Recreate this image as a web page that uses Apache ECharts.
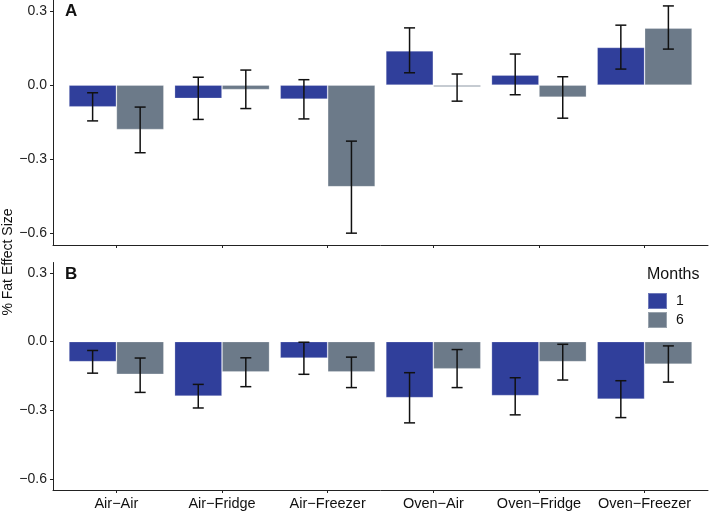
<!DOCTYPE html>
<html>
<head>
<meta charset="utf-8">
<script src="https://cdn.jsdelivr.net/npm/echarts@6/dist/echarts.min.js"></script>
<style>
  html, body { margin: 0; padding: 0; background: #fff; }
  #chart { width: 709px; height: 511px; }
</style>
</head>
<body>
<div id="chart"></div>
<script>
var categories = ['Air\u2212Air', 'Air\u2212Fridge', 'Air\u2212Freezer', 'Oven\u2212Air', 'Oven\u2212Fridge', 'Oven\u2212Freezer'];
var months = ['1', '6'];
var yTicks = [-0.6, -0.3, 0, 0.3];

// panel A
var meanA1 = [-0.088, -0.054, -0.057, 0.139, 0.041, 0.153];
var lowA1 = [-0.145, -0.139, -0.137, 0.050, -0.039, 0.065];
var highA1 = [-0.031, 0.032, 0.022, 0.232, 0.126, 0.243];
var meanA6 = [-0.180, -0.018, -0.412, -0.007, -0.049, 0.231];
var lowA6 = [-0.274, -0.095, -0.600, -0.065, -0.134, 0.146];
var highA6 = [-0.089, 0.061, -0.227, 0.045, 0.034, 0.321];

// panel B
var meanB1 = [-0.088, -0.238, -0.072, -0.245, -0.236, -0.252];
var lowB1 = [-0.138, -0.290, -0.143, -0.355, -0.320, -0.332];
var highB1 = [-0.039, -0.187, -0.003, -0.136, -0.158, -0.171];
var meanB6 = [-0.143, -0.133, -0.133, -0.119, -0.088, -0.099];
var lowB6 = [-0.222, -0.197, -0.201, -0.201, -0.168, -0.177];
var highB6 = [-0.072, -0.071, -0.068, -0.035, -0.012, -0.019];

var blue = '#303f9b';
var grey = '#6c7a89';
var font = '"Liberation Sans", Arial, sans-serif';
var catIdx = categories.map(function (c, i) { return i; });

function xAxis(idx, showLabels) {
    return {
        type: 'value', gridIndex: idx, min: -0.6, max: 5.6,
        splitLine: { show: false },
        axisLine: { show: true, onZero: false, lineStyle: { color: '#222', width: 1 } },
        axisTick: { show: true, length: 3, customValues: catIdx, lineStyle: { color: '#222' } },
        axisLabel: {
            show: showLabels, customValues: catIdx, color: '#111', fontSize: 14.5,
            fontFamily: font, margin: 6,
            formatter: function (v) { return categories[Math.round(v)]; }
        }
    };
}

function yAxis(idx) {
    return {
        type: 'value', gridIndex: idx, min: -0.648, max: 0.345,
        splitLine: { show: false },
        axisLine: { show: true, onZero: false, lineStyle: { color: '#222', width: 1 } },
        axisTick: { show: true, length: 3, customValues: yTicks, lineStyle: { color: '#222' } },
        axisLabel: {
            customValues: yTicks, color: '#222', fontSize: 14, fontFamily: font, margin: 6,
            formatter: function (v) {
                if (Math.abs(v) < 1e-9) return '0.0';
                return (v < 0 ? '\u2212' : '') + Math.abs(v).toFixed(1);
            }
        }
    };
}

function barSeries(name, values, color, idx) {
    return {
        name: name, type: 'bar', xAxisIndex: idx, yAxisIndex: idx,
        barWidth: 47.5, barGap: '0%',
        itemStyle: { color: color, borderColor: 'rgba(255,255,255,0.3)', borderWidth: 0.8 },
        data: values.map(function (v, i) { return [i, v]; })
    };
}

// 误差线
function errorSeries(low, high, sign, idx) {
    return {
        type: 'custom', xAxisIndex: idx, yAxisIndex: idx, z: 5, silent: true,
        encode: { x: 0, y: [1, 2] },
        data: low.map(function (l, i) { return [i, l, high[i]]; }),
        renderItem: function (params, api) {
            var off = api.size([1, 0])[0] * 0.225 * sign;
            var top = api.coord([api.value(0), api.value(2)]);
            var bot = api.coord([api.value(0), api.value(1)]);
            var x = top[0] + off;
            var w = 5.5;
            var st = { stroke: '#111', lineWidth: 1.5 };
            return {
                type: 'group',
                children: [
                    { type: 'line', shape: { x1: x, y1: top[1], x2: x, y2: bot[1] }, style: st },
                    { type: 'line', shape: { x1: x - w, y1: top[1], x2: x + w, y2: top[1] }, style: st },
                    { type: 'line', shape: { x1: x - w, y1: bot[1], x2: x + w, y2: bot[1] }, style: st }
                ]
            };
        }
    };
}

var myChart = echarts.init(document.getElementById('chart'));
var option = {
    animation: false,
    backgroundColor: '#fff',
    grid: [
        { left: 53, top: 0, width: 655, height: 245 },
        { left: 53, top: 262.5, width: 655, height: 227.5 }
    ],
    xAxis: [xAxis(0, false), xAxis(1, true)],
    yAxis: [yAxis(0), yAxis(1)],
    legend: {
        data: months, orient: 'vertical', left: 647, top: 292,
        itemWidth: 19, itemHeight: 16, itemGap: 1, icon: 'rect', padding: 0,
        textStyle: { fontSize: 14, color: '#111', fontFamily: font, padding: [0, 0, 0, 4] }
    },
    graphic: [
        { type: 'text', left: 65, top: 3, style: { text: 'A', font: 'bold 17px ' + font, fill: '#111' } },
        { type: 'text', left: 65, top: 266, style: { text: 'B', font: 'bold 17px ' + font, fill: '#111' } },
        { type: 'text', left: 647, top: 267, style: { text: 'Months', font: '16px ' + font, fill: '#111' } },
        {
            type: 'text', x: 8, y: 262, rotation: Math.PI / 2,
            style: { text: '% Fat Effect Size', font: '14px ' + font, fill: '#111', align: 'center', verticalAlign: 'middle' }
        }
    ],
    series: [
        barSeries(months[0], meanA1, blue, 0),
        barSeries(months[1], meanA6, grey, 0),
        barSeries(months[0], meanB1, blue, 1),
        barSeries(months[1], meanB6, grey, 1),
        errorSeries(lowA1, highA1, -1, 0),
        errorSeries(lowA6, highA6, 1, 0),
        errorSeries(lowB1, highB1, -1, 1),
        errorSeries(lowB6, highB6, 1, 1)
    ]
};
myChart.setOption(option);
</script>
</body>
</html>
